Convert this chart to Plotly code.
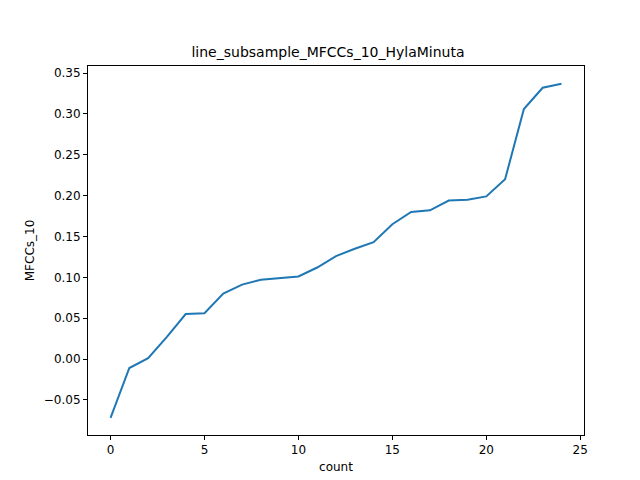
import plotly.graph_objects as go

count = list(range(25))
mfccs_10 = [-0.072, -0.011, 0.001, 0.027, 0.055, 0.056, 0.080, 0.091, 0.097, 0.099,
            0.101, 0.112, 0.126, 0.135, 0.143, 0.165, 0.180, 0.182, 0.194, 0.195,
            0.199, 0.220, 0.306, 0.332, 0.337]

fig = go.Figure(go.Scatter(x=count, y=mfccs_10, mode="lines",
                           line=dict(color="#1f77b4", width=2)))

axis_style = dict(showgrid=False, zeroline=False, showline=True, linecolor="black",
                  linewidth=1, mirror=True, ticks="outside", ticklen=4,
                  tickcolor="black", tickfont=dict(size=12, color="black"),
                  automargin=False)

fig.update_layout(
    width=640, height=480,
    plot_bgcolor="white", paper_bgcolor="white",
    margin=dict(l=80, r=64, t=58, b=53),
    font=dict(family="DejaVu Sans", color="black"),
    title=dict(text="line_subsample_MFCCs_10_HylaMinuta", x=0.5, xanchor="center",
               y=1 - 44 / 480, yanchor="middle", font=dict(size=14)),
    showlegend=False,
)
fig.update_xaxes(range=[-1.2, 25.2], tickvals=[0, 5, 10, 15, 20, 25],
                 title=dict(text="count", font=dict(size=12), standoff=6), **axis_style)
fig.update_yaxes(range=[-0.093, 0.3586], tickvals=[-0.05, 0, 0.05, 0.1, 0.15, 0.2, 0.25, 0.3, 0.35],
                 tickformat=".2f",
                 title=dict(text="MFCCs_10", font=dict(size=12), standoff=6), **axis_style)

fig.write_html("out.html")
